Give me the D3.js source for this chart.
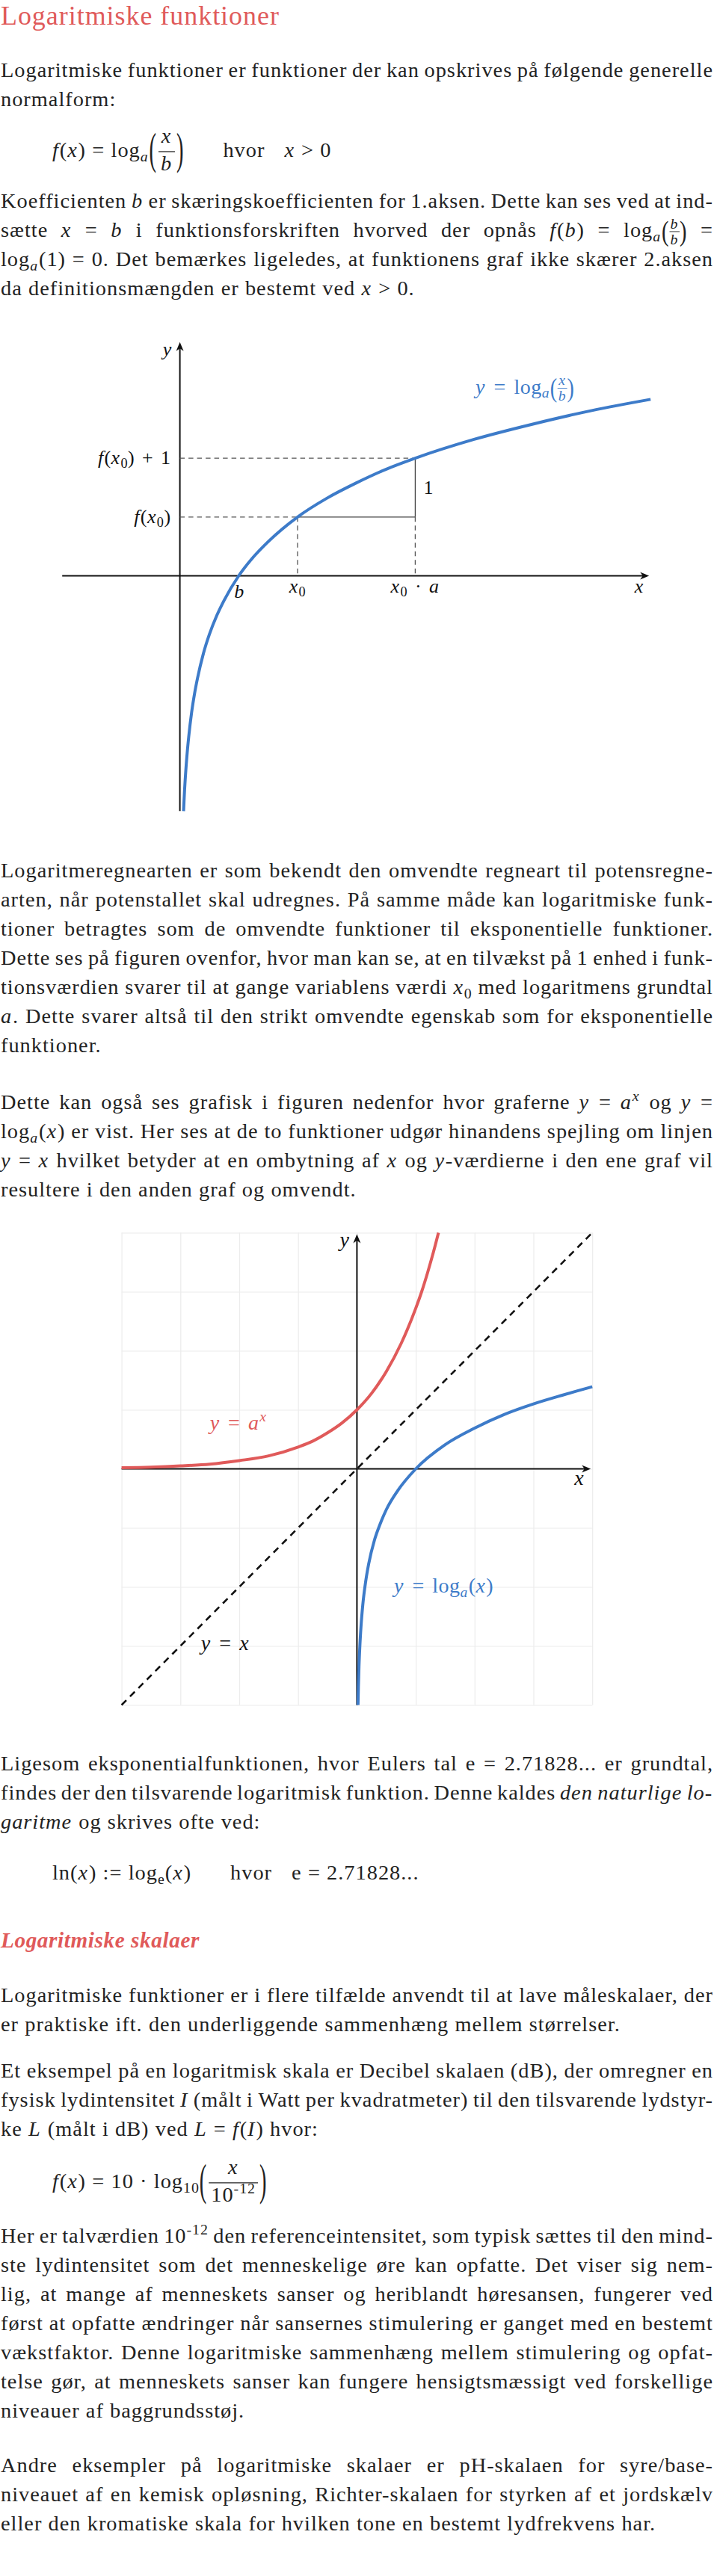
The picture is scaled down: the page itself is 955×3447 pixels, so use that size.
<!DOCTYPE html>
<html>
<head>
<meta charset="utf-8">
<script src="https://d3js.org/d3.v7.min.js"></script>
<style>
  body { margin: 0; background: #fff; }
</style>
</head>
<body>
<div id="page"></div>
<script>
var svgWidth = 955;
var svgHeight = 3447;

var textColor = "#222";
var red = "#e05a5a";
var blue = "#3d7bc9";

var lineHeight = 39;
var leftEdge = 1;
var rightEdge = 954;

// ---- text (markup: $..$ math, *..* italic, _ sub, ^ sup, ~ wide space)
var titleText = "Logaritmiske funktioner";
var subtitleText = "Logaritmiske skalaer";

var para1 = [
  "Logaritmiske funktioner er funktioner der kan opskrives på følgende generelle",
  "normalform:"
];
var formula1 = "$f(x) = log_a\\dfrac{x}{b}$~~hvor~$x > 0$";
var para2 = [
  "Koefficienten $b$ er skæringskoefficienten for 1.aksen. Dette kan ses ved at ind-",
  "sætte $x = b$ i funktionsforskriften hvorved der opnås $f(b) = log_a\\pfrac{b}{b} =$",
  "$log_a(1) = 0$. Det bemærkes ligeledes, at funktionens graf ikke skærer 2.aksen",
  "da definitionsmængden er bestemt ved $x > 0$."
];
var para3 = [
  "Logaritmeregnearten er som bekendt den omvendte regneart til potensregne-",
  "arten, når potenstallet skal udregnes. På samme måde kan logaritmiske funk-",
  "tioner betragtes som de omvendte funktioner til eksponentielle funktioner.",
  "Dette ses på figuren ovenfor, hvor man kan se, at en tilvækst på 1 enhed i funk-",
  "tionsværdien svarer til at gange variablens værdi $x_0$ med logaritmens grundtal",
  "$a$. Dette svarer altså til den strikt omvendte egenskab som for eksponentielle",
  "funktioner."
];
var para4 = [
  "Dette kan også ses grafisk i figuren nedenfor hvor graferne $y = a^x$ og $y =$",
  "$log_a(x)$ er vist. Her ses at de to funktioner udgør hinandens spejling om linjen",
  "$y = x$ hvilket betyder at en ombytning af $x$ og $y$-værdierne i den ene graf vil",
  "resultere i den anden graf og omvendt."
];
var para5 = [
  "Ligesom eksponentialfunktionen, hvor Eulers tal $e = 2.71828...$ er grundtal,",
  "findes der den tilsvarende logaritmisk funktion. Denne kaldes *den naturlige lo-*",
  "*garitme* og skrives ofte ved:"
];
var formula2 = "$ln(x) := log_e(x)$~~hvor~$e = 2.71828...$";
var para6 = [
  "Logaritmiske funktioner er i flere tilfælde anvendt til at lave måleskalaer, der",
  "er praktiske ift. den underliggende sammenhæng mellem størrelser."
];
var para7 = [
  "Et eksempel på en logaritmisk skala er Decibel skalaen (dB), der omregner en",
  "fysisk lydintensitet $I$ (målt i Watt per kvadratmeter) til den tilsvarende lydstyr-",
  "ke $L$ (målt i dB) ved $L = f(I)$ hvor:"
];
var formula3 = "$f(x) = 10 · log_{10}\\dfrac{x}{10^{-12}}$";
var para8 = [
  "Her er talværdien $10^{-12}$ den referenceintensitet, som typisk sættes til den mind-",
  "ste lydintensitet som det menneskelige øre kan opfatte. Det viser sig nem-",
  "lig, at mange af menneskets sanser og heriblandt høresansen, fungerer ved",
  "først at opfatte ændringer når sansernes stimulering er ganget med en bestemt",
  "vækstfaktor. Denne logaritmiske sammenhæng mellem stimulering og opfat-",
  "telse gør, at menneskets sanser kan fungere hensigtsmæssigt ved forskellige",
  "niveauer af baggrundsstøj."
];
var para9 = [
  "Andre eksempler på logaritmiske skalaer er pH-skalaen for syre/base-",
  "niveauet af en kemisk opløsning, Richter-skalaen for styrken af et jordskælv",
  "eller den kromatiske skala for hvilken tone en bestemt lydfrekvens har."
];

// ---- figure 1: y = log_a(x/b) (b = 1, a = 2)
var logX = [0.0625, 0.07, 0.08, 0.09, 0.1, 0.125, 0.15, 0.2, 0.25, 0.3, 0.4, 0.5, 0.625, 0.75,
  1, 1.25, 1.5, 2, 2.5, 3, 3.5, 4, 5, 6, 7, 8];
var logY = [-4, -3.84, -3.64, -3.47, -3.32, -3, -2.74, -2.32, -2, -1.74, -1.32, -1, -0.68, -0.42,
  0, 0.32, 0.58, 1, 1.32, 1.58, 1.81, 2, 2.32, 2.58, 2.81, 3];
var x0Value = 2;      // x0
var x0aValue = 4;     // x0 * a
var fx0Value = 1;     // f(x0)

// ---- figure 2: y = a^x, y = log_a(x) and y = x
var expX = [-4, -3.5, -3, -2.5, -2, -1.5, -1, -0.75, -0.5, -0.25, 0, 0.25, 0.5, 0.75, 1, 1.1, 1.2, 1.3, 1.386];
var expY = [0.02, 0.03, 0.05, 0.08, 0.14, 0.22, 0.37, 0.47, 0.61, 0.78, 1, 1.28, 1.65, 2.12, 2.72, 3.0, 3.32, 3.67, 4];
var lnX = [0.0183, 0.025, 0.035, 0.05, 0.07, 0.1, 0.15, 0.2, 0.3, 0.4, 0.5, 0.7, 1, 1.5, 2, 2.5, 3, 3.5, 4];
var lnY = [-4, -3.69, -3.35, -3, -2.66, -2.3, -1.9, -1.61, -1.2, -0.92, -0.69, -0.36, 0, 0.41, 0.69, 0.92, 1.1, 1.25, 1.39];
var diagX = [-4, 4];
var diagY = [-4, 4];
var gridTicks = [-4, -3, -2, -1, 0, 1, 2, 3, 4];

// pick the first serif face that is really installed
function pickFont(list) {
  var ctx = document.createElement("canvas").getContext("2d");
  var sample = "Logaritmiske funktioner æøå 0123 fxy";
  ctx.font = "40px monospace";
  var wm = ctx.measureText(sample).width;
  ctx.font = "40px sans-serif";
  var ws = ctx.measureText(sample).width;
  for (var i = 0; i < list.length; i++) {
    ctx.font = "40px \"" + list[i] + "\", monospace";
    var a = ctx.measureText(sample).width;
    ctx.font = "40px \"" + list[i] + "\", sans-serif";
    var b = ctx.measureText(sample).width;
    if (a !== wm || b !== ws) return list[i];
  }
  return "serif";
}
var fontName = pickFont(["Liberation Serif", "Times New Roman", "Tinos", "DejaVu Serif", "Noto Serif"]);
var fontStack = "\"" + fontName + "\", serif";

// body size chosen so a known last line has the width it has in the figure
function measure(str, size, style, weight) {
  var ctx = document.createElement("canvas").getContext("2d");
  ctx.font = (style || "normal") + " " + (weight || "normal") + " " + size + "px " + fontStack;
  return ctx.measureText(str).width;
}
var sampleLine = "er praktiske ift. den underliggende sammenhæng mellem størrelser.";
var bodySize = Math.max(22, Math.min(31, 28 * (829 - 66) / measure(sampleLine, 28)));
var spaceWidth = bodySize * 0.29;
var titleSize = Math.max(26, Math.min(40, 34 * (373 - 23) / measure(titleText, 34)));
var subtitleSize = Math.max(22, Math.min(34, 29 * (266 - 12) / measure(subtitleText, 29, "italic", "bold")));

var svg = d3.select("#page")
  .append("svg")
  .attr("width", svgWidth)
  .attr("height", svgHeight)
  .attr("font-family", fontStack)
  .style("font-family", fontStack);

svg.append("rect").attr("width", svgWidth).attr("height", svgHeight).attr("fill", "#fff");

var defs = svg.append("defs");
defs.append("marker")
  .attr("id", "arrow")
  .attr("viewBox", "-14 -7 16 14")
  .attr("refX", -5)
  .attr("refY", 0)
  .attr("markerWidth", 16)
  .attr("markerHeight", 14)
  .attr("markerUnits", "userSpaceOnUse")
  .attr("orient", "auto")
  .append("path")
  .attr("d", "M0,0 L-12,-5 L-8.5,0 L-12,5 Z")
  .attr("fill", "#111");

var page = svg.append("g").style("letter-spacing", "1px");

// ---------- tiny typesetter ----------
var mathVars = /[xyabfIL]/;

function readGroup(s, i) {
  if (s[i] !== "{") return [s[i], i + 1];
  var depth = 0, j = i;
  for (; j < s.length; j++) {
    if (s[j] === "{") depth++;
    else if (s[j] === "}") { depth--; if (depth === 0) break; }
  }
  return [s.slice(i + 1, j), j + 1];
}

function parseLine(s) {
  var toks = [], box = null, math = false, emph = false, i = 0;
  function add(p) {
    if (!box) { box = []; toks.push({box: box}); }
    var last = box[box.length - 1];
    if (p.t != null && last && last.t != null && last.it === p.it && last.sh === p.sh) last.t += p.t;
    else box.push(p);
  }
  while (i < s.length) {
    var c = s[i];
    if (c === " " || c === "~") {
      box = null;
      toks.push({glue: true, w: c === "~" ? 26 : null});
      i++;
    }
    else if (c === "$") { math = !math; i++; }
    else if (c === "*" && !math) { emph = !emph; i++; }
    else if (math && (c === "_" || c === "^")) {
      var r = readGroup(s, i + 1);
      i = r[1];
      var sh = c === "_" ? "sub" : "sup";
      r[0].split("").forEach(function(ch) { add({t: ch, it: mathVars.test(ch), sh: sh}); });
    }
    else if (math && c === "\\") {
      var name = /^\\(\w+)/.exec(s.slice(i))[1];
      i += name.length + 1;
      var a = readGroup(s, i);
      var b = readGroup(s, a[1]);
      i = b[1];
      add({frac: name, num: parseLine("$" + a[0] + "$")[0].box, den: parseLine("$" + b[0] + "$")[0].box});
    }
    else { add({t: c, it: emph || (math && mathVars.test(c)), sh: null}); i++; }
  }
  return toks;
}

function paren(g, x, ty, k, fs, color, ch) {
  var t = g.append("text")
    .attr("font-size", fs)
    .attr("fill", color)
    .attr("transform", "translate(" + x + "," + ty + ") scale(1," + k + ")")
    .text(ch);
  return t.node().getComputedTextLength();
}

function drawFrac(g, x, p, fs, color) {
  var display = p.frac === "dfrac";
  var sub = display ? fs : fs * 0.7;
  var k = display ? 2.1 : 1.3;
  var ty = display ? fs * 0.33 : fs * 0.17;
  var pw = paren(g, x, ty, k, fs, color, "(");
  var ng = g.append("g"), dg = g.append("g");
  var wn = drawPieces(ng, p.num, sub, color);
  var wd = drawPieces(dg, p.den, sub, color);
  var w = Math.max(wn, wd) + (display ? 6 : 2);
  var x1 = x + pw + (display ? 2 : 0);
  ng.attr("transform", "translate(" + (x1 + (w - wn) / 2) + "," + (display ? -fs * 0.66 : -fs * 0.4) + ")");
  dg.attr("transform", "translate(" + (x1 + (w - wd) / 2) + "," + (display ? fs * 0.64 : fs * 0.35) + ")");
  g.append("line")
    .attr("x1", x1).attr("x2", x1 + w)
    .attr("y1", -fs * 0.25).attr("y2", -fs * 0.25)
    .attr("stroke", color)
    .attr("stroke-width", display ? 1.2 : 0.9);
  var x2 = x1 + w + (display ? 2 : 0);
  var pw2 = paren(g, x2, ty, k, fs, color, ")");
  return x2 + pw2 - x;
}

function drawPieces(g, pieces, fs, color) {
  var x = 0;
  pieces.forEach(function(p) {
    if (p.frac) { x += drawFrac(g, x, p, fs, color); return; }
    var t = g.append("text")
      .attr("x", x)
      .attr("y", p.sh === "sub" ? fs * 0.2 : p.sh === "sup" ? -fs * 0.4 : 0)
      .attr("font-size", p.sh ? fs * 0.7 : fs)
      .attr("font-style", p.it ? "italic" : null)
      .attr("fill", color)
      .text(p.t);
    x += t.node().getComputedTextLength() + (p.it ? fs * 0.03 : 0);
  });
  return x;
}

// lay out one line; justified lines are stretched to the right edge
function setLine(parent, str, x0, y, justify, fs, color, gapW) {
  var toks = parseLine(str);
  var lg = parent.append("g");
  var boxW = 0, flex = 0, fixed = 0;
  toks.forEach(function(tk) {
    if (tk.glue) {
      if (tk.w == null) flex++; else fixed += tk.w;
      return;
    }
    tk.g = lg.append("g");
    tk.bw = drawPieces(tk.g, tk.box, fs, color);
    boxW += tk.bw;
  });
  var gap = justify && flex ? (rightEdge - x0 - boxW - fixed) / flex : gapW;
  var x = x0;
  toks.forEach(function(tk) {
    if (tk.glue) { x += tk.w == null ? gap : tk.w; return; }
    tk.g.attr("transform", "translate(" + x + "," + y + ")");
    x += tk.bw;
  });
  lg.attr("data-width", x - x0);
  return lg;
}

function label(parent, str, x, y, fs, color, anchor) {
  var g = parent.append("g");
  var lg = setLine(g, str, 0, 0, false, fs, color, fs * 0.38);
  var w = +lg.attr("data-width");
  var dx = anchor === "end" ? -w : anchor === "middle" ? -w / 2 : 0;
  g.attr("transform", "translate(" + (x + dx) + "," + y + ")");
  return g;
}

// ---------- text blocks ----------
var blocks = [
  {lines: para1, y: 103},
  {lines: [formula1], y: 210, x: 70, display: true},
  {lines: para2, y: 278},
  {lines: para3, y: 1174},
  {lines: para4, y: 1484},
  {lines: para5, y: 2369},
  {lines: [formula2], y: 2515, x: 70, display: true},
  {lines: para6, y: 2679},
  {lines: para7, y: 2780},
  {lines: [formula3], y: 2928, x: 70, display: true},
  {lines: para8, y: 3001},
  {lines: para9, y: 3308}
];

blocks.forEach(function(b) {
  b.lines.forEach(function(line, i) {
    var last = i === b.lines.length - 1;
    setLine(page, line, b.x || leftEdge, b.y + i * lineHeight, !b.display && !last,
      bodySize, textColor, spaceWidth);
  });
});

page.append("text")
  .attr("x", leftEdge)
  .attr("y", 33)
  .attr("font-size", titleSize)
  .attr("fill", red)
  .text(titleText);

page.append("text")
  .attr("x", leftEdge)
  .attr("y", 2606)
  .attr("font-size", subtitleSize)
  .attr("font-weight", "bold")
  .attr("font-style", "italic")
  .style("letter-spacing", "0.6px")
  .attr("fill", red)
  .text(subtitleText);

// ---------- figure 1 ----------
var c1x = d3.scaleLinear().domain([-2, 8]).range([83.2, 870.2]);
var c1y = d3.scaleLinear().domain([-4, 4]).range([1085.3, 455.7]);
var fig1 = svg.append("g").style("letter-spacing", "0.5px");

// axes
fig1.append("line")
  .attr("x1", c1x(-2)).attr("x2", c1x(8) - 7)
  .attr("y1", c1y(0)).attr("y2", c1y(0))
  .attr("stroke", "#111").attr("stroke-width", 2)
  .attr("marker-end", "url(#arrow)");
fig1.append("line")
  .attr("x1", c1x(0)).attr("x2", c1x(0))
  .attr("y1", c1y(-4)).attr("y2", c1y(4) + 7)
  .attr("stroke", "#111").attr("stroke-width", 2)
  .attr("marker-end", "url(#arrow)");

// helper lines
var fx1 = fx0Value + 1;
var dashed = [
  [[0, fx1], [x0aValue, fx1]],
  [[0, fx0Value], [x0Value, fx0Value]],
  [[x0Value, fx0Value], [x0Value, 0]],
  [[x0aValue, fx0Value], [x0aValue, 0]]
];
var solid = [
  [[x0Value, fx0Value], [x0aValue, fx0Value]],
  [[x0aValue, fx0Value], [x0aValue, fx1]]
];
fig1.selectAll(".dash")
  .data(dashed)
  .enter()
  .append("line")
  .attr("x1", d => c1x(d[0][0])).attr("y1", d => c1y(d[0][1]))
  .attr("x2", d => c1x(d[1][0])).attr("y2", d => c1y(d[1][1]))
  .attr("stroke", "#555").attr("stroke-width", 1.3)
  .attr("stroke-dasharray", "6.5,5");
fig1.selectAll(".solid")
  .data(solid)
  .enter()
  .append("line")
  .attr("x1", d => c1x(d[0][0])).attr("y1", d => c1y(d[0][1]))
  .attr("x2", d => c1x(d[1][0])).attr("y2", d => c1y(d[1][1]))
  .attr("stroke", "#444").attr("stroke-width", 1.3);

var line1 = d3.line()
  .x(d => c1x(d[0]))
  .y(d => c1y(d[1]))
  .curve(d3.curveMonotoneX);

fig1.append("path")
  .datum(d3.zip(logX, logY))
  .attr("d", line1)
  .attr("fill", "none")
  .attr("stroke", blue)
  .attr("stroke-width", 4);

var lab1 = 26;
label(fig1, "$y$", c1x(0) - 10, c1y(4) + 20, lab1, "#111", "end");
label(fig1, "$x$", c1x(8) - 15, c1y(0) + 22, lab1, "#111", "middle");
label(fig1, "$f(x_0) + 1$", c1x(0) - 12, c1y(fx1) + 8, lab1, "#111", "end");
label(fig1, "$f(x_0)$", c1x(0) - 12, c1y(fx0Value) + 8, lab1, "#111", "end");
label(fig1, "$b$", c1x(1) + 1, c1y(0) + 29, lab1, "#111", "middle");
label(fig1, "$x_0$", c1x(x0Value), c1y(0) + 22, lab1, "#111", "middle");
label(fig1, "$x_0 · a$", c1x(x0aValue), c1y(0) + 22, lab1, "#111", "middle");
label(fig1, "$1$", c1x(x0aValue) + 11, c1y((fx0Value + fx1) / 2) + 9, lab1, "#111", "start");
label(fig1, "$y = log_a\\pfrac{x}{b}$", c1x(5) + 2, c1y(3.1), 28, blue, "start");

// ---------- figure 2 ----------
var c2x = d3.scaleLinear().domain([-4, 4]).range([162.6, 792.2]);
var c2y = d3.scaleLinear().domain([-4, 4]).range([2281.5, 1649.5]);
var fig2 = svg.append("g").style("letter-spacing", "0.5px");

// grid
fig2.append("g")
  .attr("transform", `translate(0, ${c2y(-4)})`)
  .call(d3.axisBottom(c2x).tickValues(gridTicks).tickSize(-(c2y(-4) - c2y(4))).tickFormat(""))
  .call(g => g.select(".domain").remove())
  .call(g => g.selectAll("line").attr("stroke", "#ececec").attr("stroke-width", 1.2));
fig2.append("g")
  .attr("transform", `translate(${c2x(-4)}, 0)`)
  .call(d3.axisLeft(c2y).tickValues(gridTicks).tickSize(-(c2x(4) - c2x(-4))).tickFormat(""))
  .call(g => g.select(".domain").remove())
  .call(g => g.selectAll("line").attr("stroke", "#ececec").attr("stroke-width", 1.2));

// axes
fig2.append("line")
  .attr("x1", c2x(-4)).attr("x2", c2x(4) - 7)
  .attr("y1", c2y(0)).attr("y2", c2y(0))
  .attr("stroke", "#111").attr("stroke-width", 2)
  .attr("marker-end", "url(#arrow)");
fig2.append("line")
  .attr("x1", c2x(0)).attr("x2", c2x(0))
  .attr("y1", c2y(-4)).attr("y2", c2y(4) + 7)
  .attr("stroke", "#111").attr("stroke-width", 2)
  .attr("marker-end", "url(#arrow)");

var line2 = d3.line()
  .x(d => c2x(d[0]))
  .y(d => c2y(d[1]))
  .curve(d3.curveMonotoneX);

fig2.append("path")
  .datum(d3.zip(diagX, diagY))
  .attr("d", line2)
  .attr("fill", "none")
  .attr("stroke", "#111")
  .attr("stroke-width", 2.6)
  .attr("stroke-dasharray", "9,7");

fig2.append("path")
  .datum(d3.zip(expX, expY))
  .attr("d", line2)
  .attr("fill", "none")
  .attr("stroke", red)
  .attr("stroke-width", 4);

fig2.append("path")
  .datum(d3.zip(lnX, lnY))
  .attr("d", line2)
  .attr("fill", "none")
  .attr("stroke", blue)
  .attr("stroke-width", 4);

var lab2 = 28;
label(fig2, "$y$", c2x(0) - 9, c2y(3.77), lab2, "#111", "end");
label(fig2, "$x$", c2x(4) - 17, c2y(0) + 21, lab2, "#111", "middle");
label(fig2, "$y = a^x$", c2x(-2.5), c2y(0.66), lab2, red, "start");
label(fig2, "$y = log_a(x)$", c2x(0.63), c2y(-2.1), lab2, blue, "start");
label(fig2, "$y = x$", c2x(-2.65), c2y(-3.07), lab2, "#111", "start");
</script>
</body>
</html>
